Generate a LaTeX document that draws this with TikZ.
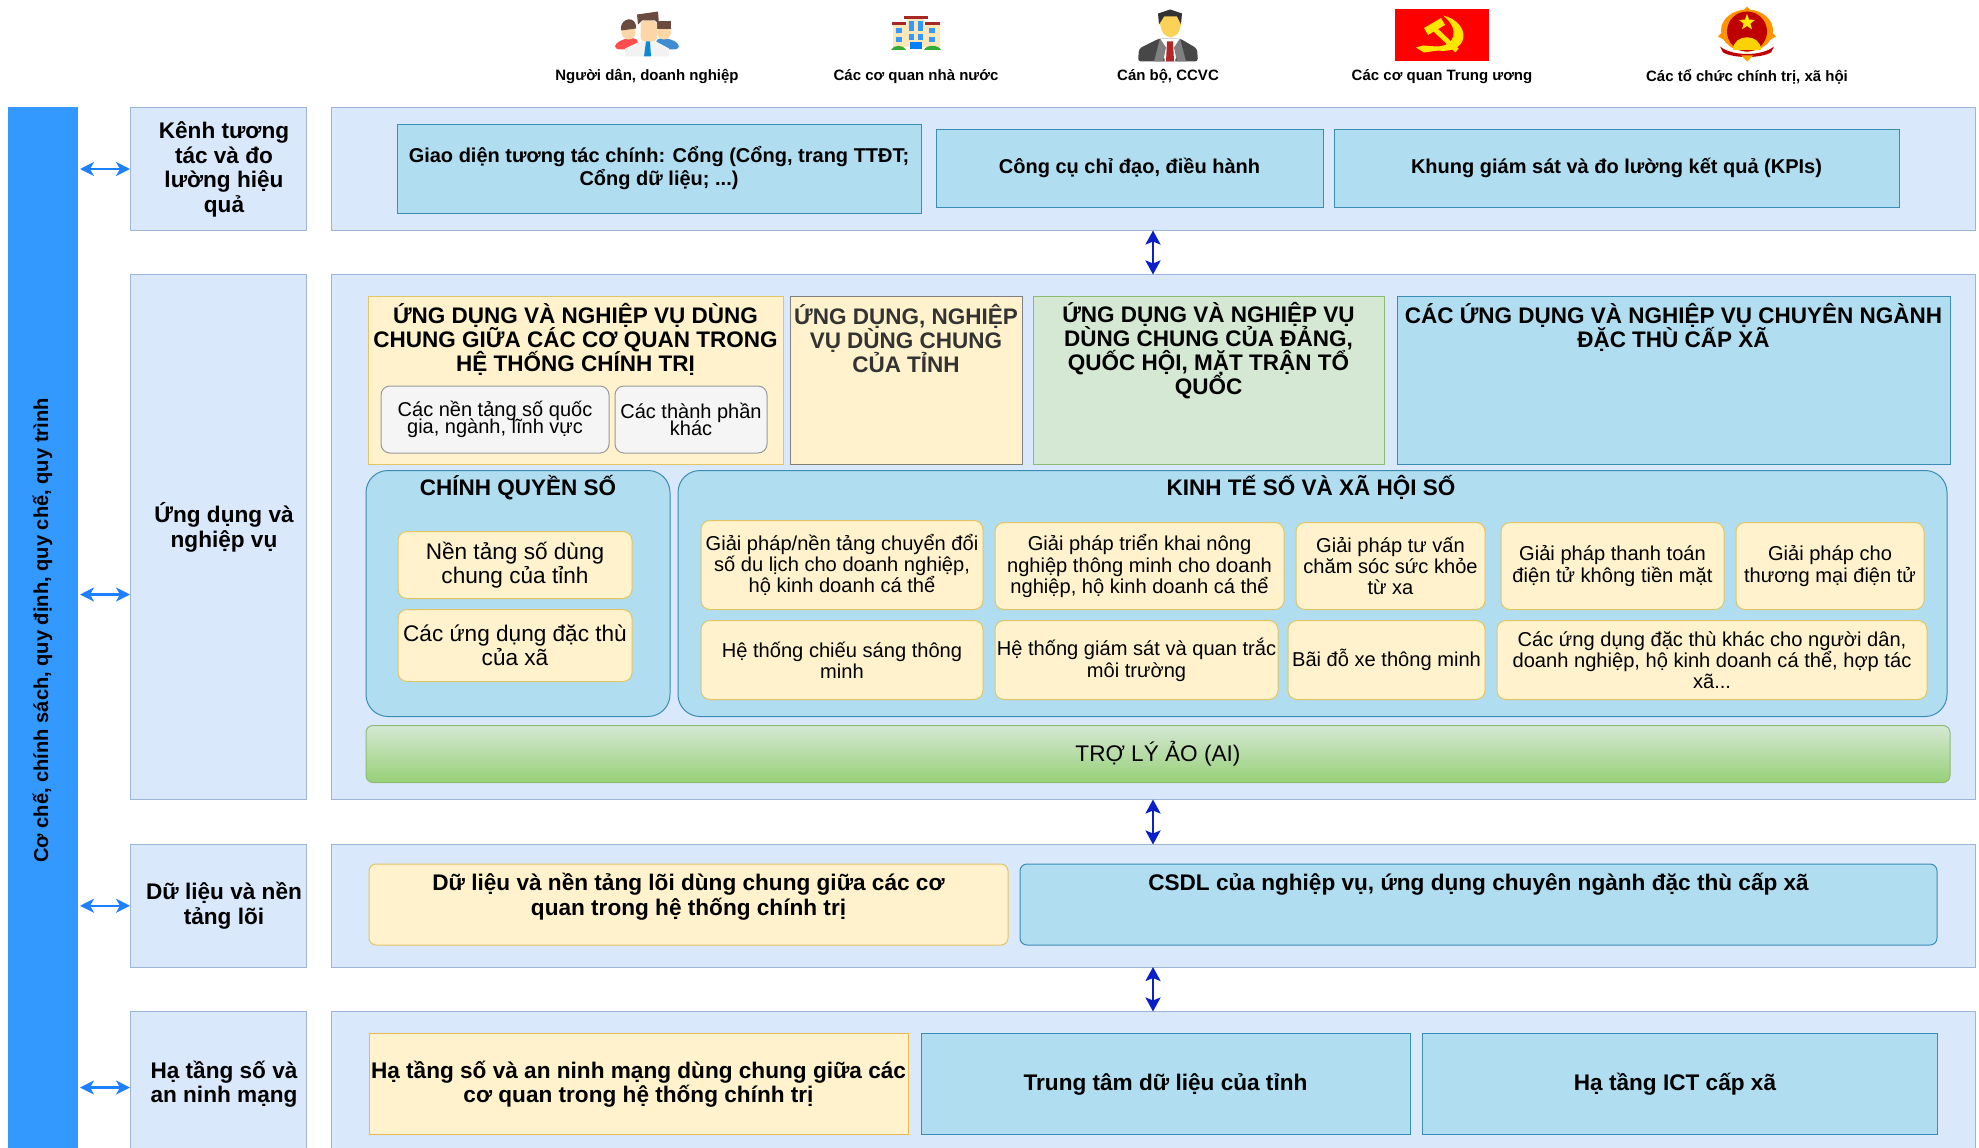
\documentclass[tikz,border=0pt]{standalone}
\usepackage{fontspec}
\setmainfont{Liberation Sans}
\usetikzlibrary{arrows.meta,shapes.geometric}
\lineskiplimit=-100pt

\definecolor{panelfill}{HTML}{DAE8FC}
\definecolor{paneldraw}{HTML}{9DB5D9}
\definecolor{bluefill}{HTML}{B1DDF0}
\definecolor{bluedraw}{HTML}{3A8DB3}
\definecolor{yelfill}{HTML}{FFF2CC}
\definecolor{yeldraw}{HTML}{E3C565}
\definecolor{greenfill}{HTML}{D5E8D4}
\definecolor{greendraw}{HTML}{8DBB72}
\definecolor{greenlow}{HTML}{97D077}
\definecolor{barblue}{HTML}{3399FF}
\definecolor{sideblue}{HTML}{1E7FFF}
\definecolor{midblue}{HTML}{0A1FC8}
\definecolor{skin}{HTML}{FBD7A8}
\definecolor{hair}{HTML}{6B4A3F}
\definecolor{sicklegold}{HTML}{FFE600}

\tikzset{
  size/.style 2 args={minimum width=#1,minimum height=#2},
  basebox/.style={draw,inner sep=1pt,outer sep=0pt,line width=1pt,align=center},
  panel/.style={basebox,fill=panelfill,draw=paneldraw},
  bluebox/.style={basebox,fill=bluefill,draw=bluedraw},
  yelbox/.style={basebox,fill=yelfill,draw=yeldraw},
  yelcard/.style={yelbox,rounded corners=9pt},
  greybox/.style={basebox,fill=black!4,draw=black!40,rounded corners=9pt},
  toptext/.style={font=\bfseries\fontsize{20}{23}\selectfont},
  boldtext/.style={font=\bfseries\fontsize{22.6}{24.5}\selectfont},
  titletext/.style={font=\bfseries\fontsize{22.5}{24}\selectfont},
  cardtext/.style={font=\fontsize{20.1}{21.3}\selectfont},
  largetext/.style={font=\fontsize{22.6}{24.5}\selectfont},
  captext/.style={font=\bfseries\fontsize{15}{16}\selectfont,inner sep=0pt},
  plain/.style={inner sep=0pt,outer sep=0pt,align=center},
  sidearrow/.style={{Stealth[length=14pt,width=14pt,inset=4pt]}-{Stealth[length=14pt,width=14pt,inset=4pt]},sideblue,line width=2.2pt,shorten <=3pt},
  midarrow/.style={{Stealth[length=14pt,width=15pt,inset=3pt]}-{Stealth[length=14pt,width=15pt,inset=3pt]},midblue,line width=2.5pt}
}

\begin{document}
\begin{tikzpicture}[x=1pt,y=-1pt]
\useasboundingbox (0,-0.5) rectangle (1979,1147.5);

% Left bar
\node[basebox,fill=barblue,draw=barblue,size={69}{1046}] (bar) at (42.5,630) {};
\node[plain,rotate=90,font=\bfseries\fontsize{20.1}{24}\selectfont] (bartext) at (bar.center) {Cơ chế, chính sách, quy định, quy chế, quy trình};

% Row names
\node[panel,size={176}{123}] (lblone) at (218,168.5) {};
\node[plain,boldtext] (lblonetext) at (224,169) {Kênh tương\\tác và đo\\lường hiệu\\quả};
\node[panel,size={176}{525}] (lbltwo) at (218,536.5) {};
\node[plain,boldtext] (lbltwotext) at (224,527) {Ứng dụng và\\nghiệp vụ};
\node[panel,size={176}{122.5}] (lblthree) at (218,905.25) {};
\node[plain,boldtext] (lblthreetext) at (224,905) {Dữ liệu và nền\\tảng lõi};
\node[panel,size={176}{152}] (lblfour) at (218,1087) {};
\node[plain,boldtext] (lblfourtext) at (224,1083.5) {Hạ tầng số và\\an ninh mạng};
\coordinate (lbltwoin) at (130,594);

% Row panels
\node[panel,size={1644}{123}] (panelone) at (1153,168.5) {};
\node[panel,size={1644}{525}] (paneltwo) at (1153,536.5) {};
\node[panel,size={1644}{122.5}] (panelthree) at (1153,905.25) {};
\node[panel,size={1644}{152}] (panelfour) at (1153,1087) {};

% Side arrows
\draw[sidearrow] (bar.east |- lblone.west) -- (lblone.west);
\draw[sidearrow] (bar.east |- lbltwoin) -- (lbltwoin);
\draw[sidearrow] (bar.east |- lblthree.west) -- (lblthree.west);
\draw[sidearrow] (bar.east |- lblfour.west) -- (lblfour.west);

% Arrows between rows
\draw[midarrow] (panelone.south) -- (paneltwo.north);
\draw[midarrow] (paneltwo.south) -- (panelthree.north);
\draw[midarrow] (panelthree.south) -- (panelfour.north);

% Row one
\node[bluebox,toptext,size={524}{89}] (portal) at (659,168) {Giao diện tương tác chính: Cổng (Cổng, trang TTĐT;\\Cổng dữ liệu; ...)};
\node[bluebox,toptext,size={387}{78}] (command) at (1129.5,167.5) {Công cụ chỉ đạo, điều hành};
\node[bluebox,toptext,size={565}{78}] (kpi) at (1616.5,167.5) {Khung giám sát và đo lường kết quả (KPIs)};

% Row two, top blocks
\node[yelbox,size={415}{168}] (shared) at (575.5,380) {};
\node[plain,titletext] (sharedtext) at (575.5,338.5) {ỨNG DỤNG VÀ NGHIỆP VỤ DÙNG\\CHUNG GIỮA CÁC CƠ QUAN TRONG\\HỆ THỐNG CHÍNH TRỊ};
\node[greybox,size={228}{67},font=\fontsize{20}{17}\selectfont] (national) at (495,419) {Các nền tảng số quốc\\gia, ngành, lĩnh vực};
\node[greybox,size={152}{67},font=\fontsize{20}{17}\selectfont] (others) at (691,419) {Các thành phần\\khác};
\node[yelbox,draw=black!50,size={232}{168}] (province) at (906,380) {};
\node[plain,titletext,text=black!80] (provincetext) at (906,338.5) {ỨNG DỤNG, NGHIỆP\\VỤ DÙNG CHUNG\\CỦA TỈNH};
\node[basebox,fill=greenfill,draw=greendraw,size={351}{168}] (party) at (1208.5,380) {};
\node[plain,titletext] (partytext) at (1208.5,350.5) {ỨNG DỤNG VÀ NGHIỆP VỤ\\DÙNG CHUNG CỦA ĐẢNG,\\QUỐC HỘI, MẶT TRẬN TỔ\\QUỐC};
\node[bluebox,size={553}{168}] (special) at (1673.5,380) {};
\node[plain,titletext] (specialtext) at (1673.5,326.5) {CÁC ỨNG DỤNG VÀ NGHIỆP VỤ CHUYÊN NGÀNH\\ĐẶC THÙ CẤP XÃ};

% Row two, digital government
\node[bluebox,rounded corners=22pt,size={304}{246}] (gov) at (518,593) {};
\node[plain,titletext] (govtext) at (518,487) {CHÍNH QUYỀN SỐ};
\node[yelcard,largetext,size={234}{67}] (govone) at (515,564.5) {Nền tảng số dùng\\chung của tỉnh};
\node[yelcard,largetext,size={234}{72}] (govtwo) at (515,645) {Các ứng dụng đặc thù\\của xã};

% Row two, digital economy and society
\node[bluebox,rounded corners=22pt,size={1269}{246}] (eco) at (1312.5,593) {};
\node[plain,titletext] (ecotext) at (1311,487) {KINH TẾ SỐ VÀ XÃ HỘI SỐ};
\node[yelcard,cardtext,size={282}{89}] (ecoa) at (842,564.5) {Giải pháp/nền tảng chuyển đổi\\số du lịch cho doanh nghiệp,\\hộ kinh doanh cá thể};
\node[yelcard,cardtext,size={289}{87}] (ecob) at (1139.5,565.5) {Giải pháp triển khai nông\\nghiệp thông minh cho doanh\\nghiệp, hộ kinh doanh cá thể};
\node[yelcard,cardtext,size={189}{87}] (ecoc) at (1390.5,565.5) {Giải pháp tư vấn\\chăm sóc sức khỏe\\từ xa};
\node[yelcard,cardtext,size={223}{87}] (ecod) at (1612.5,565.5) {Giải pháp thanh toán\\điện tử không tiền mặt};
\node[yelcard,cardtext,size={188}{87}] (ecoe) at (1830,565.5) {Giải pháp cho\\thương mại điện tử};
\node[yelcard,cardtext,size={282}{79}] (ecof) at (842,659.5) {Hệ thống chiếu sáng thông\\minh};
\node[yelcard,cardtext,size={283}{79}] (ecog) at (1136.5,659.5) {Hệ thống giám sát và quan trắc\\môi trường};
\node[yelcard,cardtext,size={197}{79}] (ecoh) at (1386.5,659.5) {Bãi đỗ xe thông minh};
\node[yelcard,cardtext,size={430}{79}] (ecoi) at (1712,659.5) {Các ứng dụng đặc thù khác cho người dân,\\doanh nghiệp, hộ kinh doanh cá thể, hợp tác\\xã...};

% Assistant strip
\node[basebox,draw=greendraw,top color=greenfill,bottom color=greenlow,rounded corners=7pt,largetext,size={1584}{57}] (assistant) at (1158,753.5) {TRỢ LÝ ẢO (AI)};

% Row three
\node[yelcard,rounded corners=7pt,size={639}{81}] (coredata) at (688.5,904) {};
\node[plain,boldtext] (coredatatext) at (688.5,896) {Dữ liệu và nền tảng lõi dùng chung giữa các cơ\\quan trong hệ thống chính trị};
\node[bluebox,rounded corners=7pt,size={917}{81}] (csdl) at (1478.5,904) {};
\node[plain,boldtext] (csdltext) at (1478.5,884) {CSDL của nghiệp vụ, ứng dụng chuyên ngành đặc thù cấp xã};

% Row four
\node[yelbox,draw=yeldraw!80!orange,boldtext,size={539}{101}] (infra) at (638.5,1083.5) {Hạ tầng số và an ninh mạng dùng chung giữa các\\cơ quan trong hệ thống chính trị};
\node[bluebox,boldtext,size={489}{101}] (datacenter) at (1165.5,1083.5) {Trung tâm dữ liệu của tỉnh};
\node[bluebox,size={515}{101}] (ict) at (1679.5,1083.5) {};
\node[plain,boldtext] (icttext) at (1675,1083.5) {Hạ tầng ICT cấp xã};

% Top captions
\node[captext] (capa) at (647,76) {Người dân, doanh nghiệp};
\node[captext] (capb) at (916,76) {Các cơ quan nhà nước};
\node[captext] (capc) at (1168,76) {Cán bộ, CCVC};
\node[captext] (capd) at (1442,76) {Các cơ quan Trung ương};
\node[captext] (cape) at (1747,76) {Các tổ chức chính trị, xã hội};

% People icon
\fill[red!70!white,rounded corners=4pt] (615,49) -- (615,43) -- (625,38) -- (638,38) -- (638,49) -- cycle;
\fill[cyan!60!blue!80!white,rounded corners=4pt] (679,49) -- (679,43) -- (669,38) -- (656,38) -- (656,49) -- cycle;
\fill[skin] (628.5,32) circle (7);
\fill[skin] (664,32) circle (7);
\fill[hair] (621,30) .. controls (619,17) and (637,14) .. (636,28) -- cycle;
\fill[hair] (657,29) -- (657,21) -- (671,21) -- (671,29) -- cycle;
\fill[black!5] (625,56) -- (625,48) -- (640,41) -- (656,41) -- (669,48) -- (669,56) -- cycle;
\fill[skin,rounded corners=4pt] (640.5,20) rectangle (657,41);
\fill[hair] (638,24) -- (637,14) -- (658,11) -- (659,24) -- (655,20) -- (642,20) -- cycle;
\fill[cyan!70!blue] (646,41) -- (650,41) -- (651,56) -- (644,56) -- cycle;

% Building icon
\fill[yellow!30!orange!25!white] (893,25) rectangle (940,47);
\fill[yellow!30!orange!25!white] (907,19) rectangle (924,47);
\fill[red!60!black!85] (904,16) rectangle (928,19);
\fill[red!60!black!85] (892,22) rectangle (906,25);
\fill[red!60!black!85] (925,22) rectangle (940,25);
\foreach \winx in {896,929}{
  \fill[blue!50!cyan!80] (\winx,28) rectangle +(6,5);
  \fill[blue!50!cyan!80] (\winx,37) rectangle +(6,5);
}
\foreach \winx in {909,918}{
  \fill[blue!50!cyan!80] (\winx,21) rectangle +(5,10);
  \fill[blue!50!cyan!80] (\winx,34) rectangle +(5,6);
}
\fill[blue!50!cyan] (910,42) rectangle (922,49);
\fill[green!60!black!80] (891,49.5) .. controls (893,44) and (904,44) .. (906,49.5) -- cycle;
\fill[green!60!black!80] (924,49.5) .. controls (926,44) and (939,44) .. (941,49.5) -- cycle;

% Officer icon
\fill[black!72,rounded corners=3pt] (1138,61) -- (1139,48) -- (1159,38) -- (1180,38) -- (1197,48) -- (1198,61) -- cycle;
\fill[white] (1160,38) -- (1180,38) -- (1175,61) -- (1165,61) -- cycle;
\fill[black!50] (1160,38) -- (1166,47) -- (1163,61) -- (1154,61) -- cycle;
\fill[black!50] (1180,38) -- (1174,47) -- (1177,61) -- (1186,61) -- cycle;
\fill[red!65!black!85] (1167,41) -- (1173,41) -- (1174,61) -- (1166,61) -- cycle;
\fill[yellow!50!orange!65!white,rounded corners=6pt] (1160,14) -- (1181,14) -- (1181,28) -- (1175,37) -- (1166,37) -- (1160,28) -- cycle;
\fill[black!80] (1159,24) -- (1158,13) -- (1170,9) -- (1182,13) -- (1181,24) -- (1177,16) -- (1164,16) -- cycle;

% Party flag
\fill[red] (1395,9) rectangle (1489,61);
\fill[sicklegold] (1443,15) .. controls (1472,22) and (1470,54) .. (1438,50) -- (1424,52) -- (1416,47) -- (1423,45) -- (1436,46) .. controls (1456,46) and (1460,28) .. (1443,15) -- cycle;
\draw[sicklegold,line width=5pt] (1457,50) -- (1434,28);
\draw[sicklegold,line width=8pt] (1426,31) -- (1443,21);

% National emblem
\fill[orange!85!yellow] (1747,30) ellipse (26 and 21);
\fill[orange!85!yellow] (1718,36) -- (1747,6) -- (1776,36) -- (1747,52) -- cycle;
\fill[red!75!black] (1747,31) circle (20);
\node[star,star points=5,star point ratio=2.4,fill=yellow!90!orange,inner sep=0pt,minimum size=17pt] (emblemstar) at (1747,22) {};
\fill[yellow!70!orange] (1733,50) .. controls (1733,33) and (1761,33) .. (1761,50) -- cycle;
\fill[red!75!black] (1720,46) .. controls (1732,56) and (1762,56) .. (1774,46) -- (1771,52) .. controls (1760,58) and (1734,58) .. (1723,52) -- cycle;
\fill[orange!70!yellow] (1741,55) -- (1753,55) -- (1747,61) -- cycle;

\end{tikzpicture}
\end{document}
